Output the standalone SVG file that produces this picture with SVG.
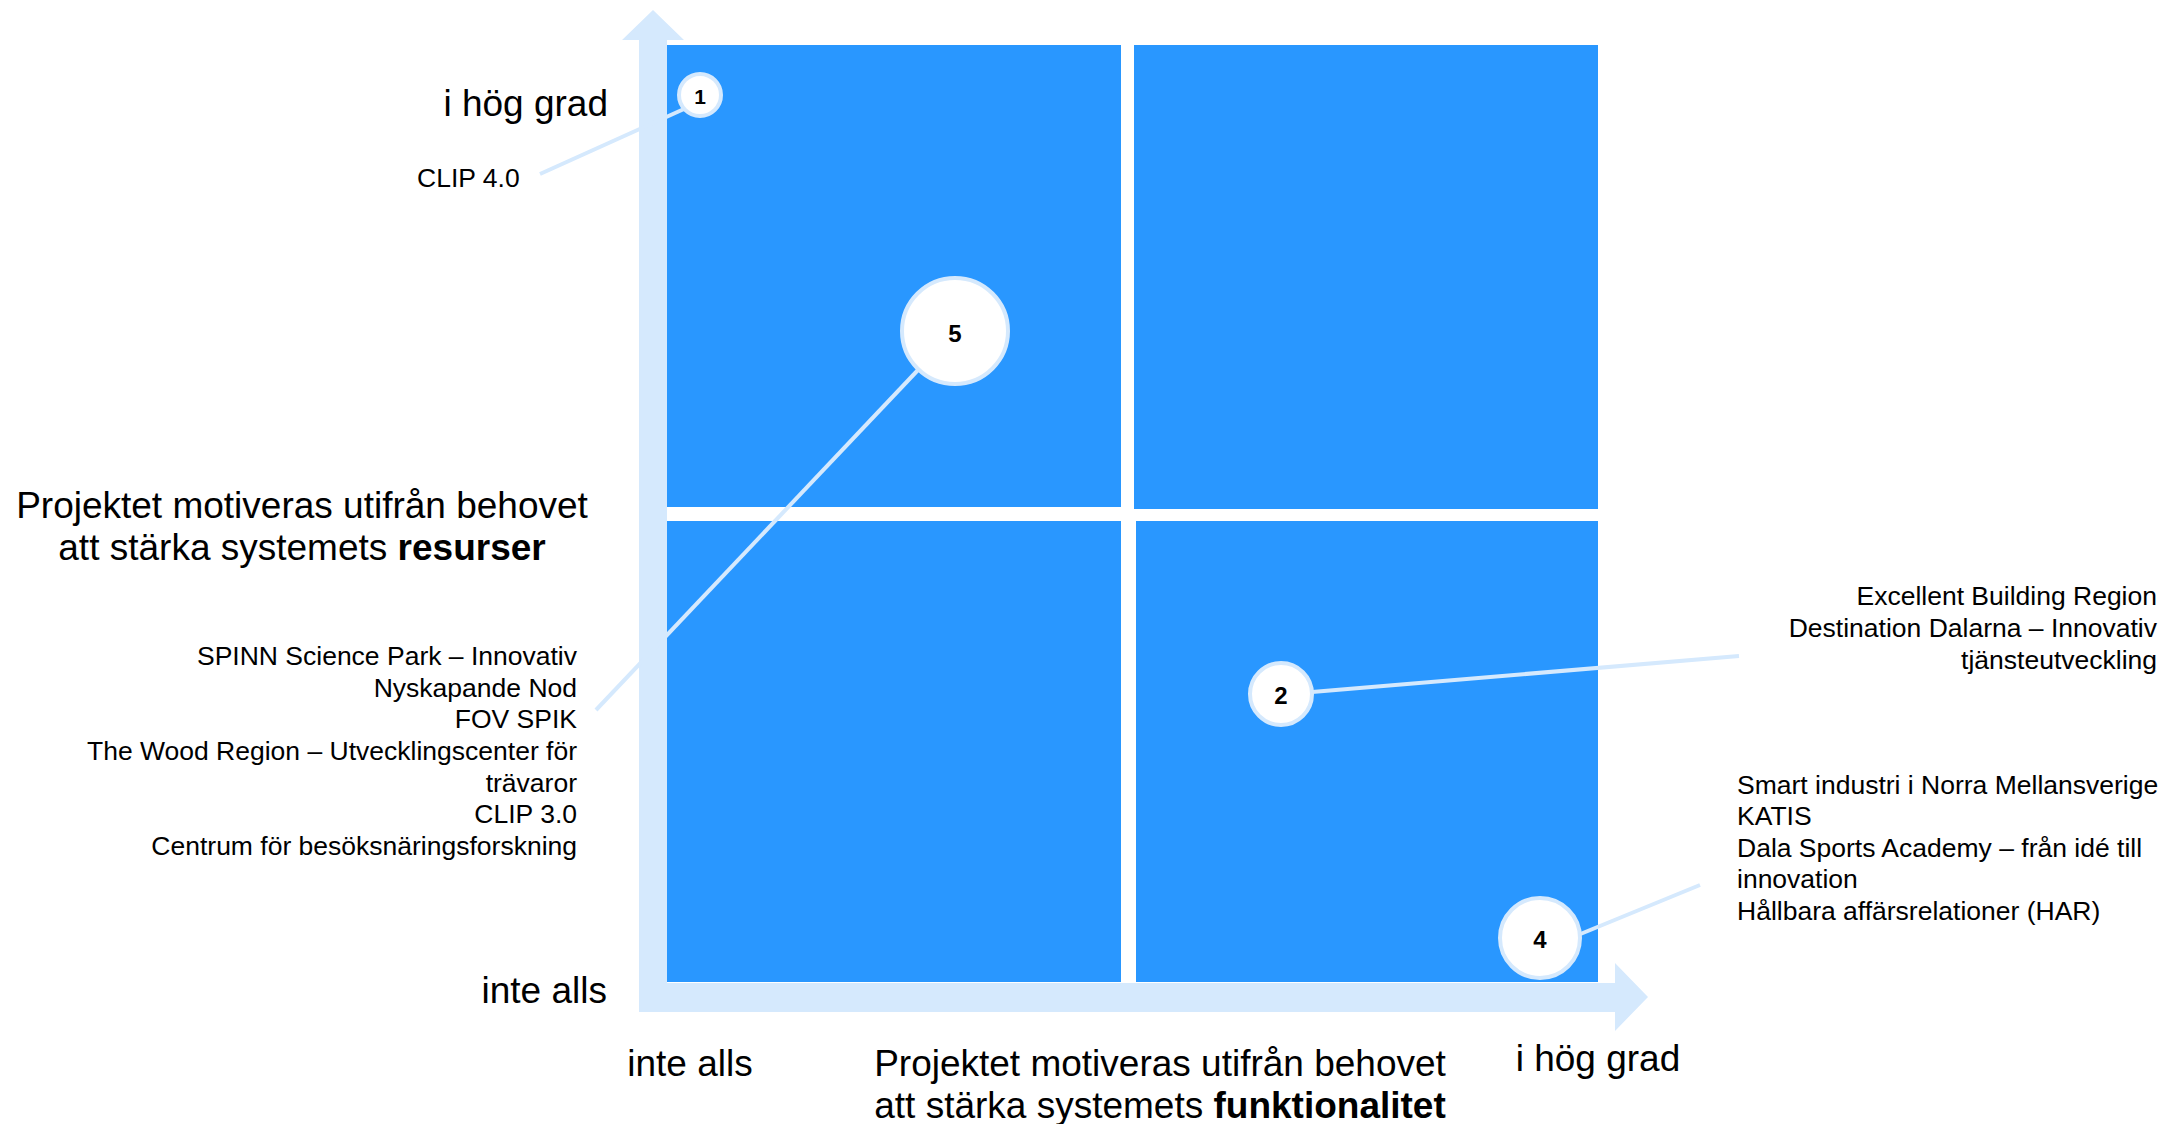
<svg xmlns="http://www.w3.org/2000/svg" width="2164" height="1124" viewBox="0 0 2164 1124">
<style>
  text { font-family: "Liberation Sans", Arial, sans-serif; fill: #000; }
  .quad { fill: #2997FF; }
  .axis { fill: #D5E9FD; }
  .conn { stroke: #D5E9FD; stroke-width: 4; fill: none; }
  .bubble { fill: #FFFFFF; stroke: #D5E9FD; stroke-width: 4; }
  .num { font-weight: bold; text-anchor: middle; }
  .big { font-size: 37px; }
  .list { font-size: 26.5px; }
  .end { text-anchor: end; }
  .mid { text-anchor: middle; }
</style>
<rect width="2164" height="1124" fill="#FFFFFF"/>
<g id="axes">
  <polygon class="axis" points="639,1012 639,40 622,40 653,10 684,40 667,40 667,983 1615,983 1615,963 1648,997 1615,1031 1615,1012"/>
</g>
<g id="quadrants">
  <rect class="quad" x="667" y="45" width="454" height="462"/>
  <rect class="quad" x="1134" y="45" width="464" height="464"/>
  <rect class="quad" x="667" y="521" width="454" height="461"/>
  <rect class="quad" x="1136" y="521" width="462" height="461"/>
</g>
<g id="connectors">
  <line class="conn" x1="540" y1="174" x2="684" y2="109"/>
  <line class="conn" x1="596" y1="710" x2="918" y2="370"/>
  <line class="conn" x1="1312" y1="692" x2="1739" y2="656"/>
  <line class="conn" x1="1578" y1="935" x2="1700" y2="885"/>
</g>
<g id="node1">
  <circle class="bubble" cx="700" cy="95" r="21"/>
  <text class="num" x="700" y="104" font-size="21">1</text>
</g>
<g id="node5">
  <circle class="bubble" cx="955" cy="331" r="53"/>
  <text class="num" x="955" y="342" font-size="24">5</text>
</g>
<g id="node2">
  <circle class="bubble" cx="1281" cy="694" r="31"/>
  <text class="num" x="1281" y="704" font-size="24">2</text>
</g>
<g id="node4">
  <circle class="bubble" cx="1540" cy="938" r="40"/>
  <text class="num" x="1540" y="948" font-size="24">4</text>
</g>
<g id="labels">
  <text class="big end" x="608" y="116">i hög grad</text>
  <text class="big end" x="607" y="1003">inte alls</text>
  <text class="big mid" x="690" y="1076">inte alls</text>
  <text class="big mid" x="1598" y="1071">i hög grad</text>
  <text class="list" x="417" y="187">CLIP 4.0</text>
  <text class="big mid" x="302" y="518">Projektet motiveras utifrån behovet</text>
  <text class="big mid" x="302" y="560">att stärka systemets <tspan font-weight="bold">resurser</tspan></text>
  <text class="big mid" x="1160" y="1076">Projektet motiveras utifrån behovet</text>
  <text class="big mid" x="1160" y="1118">att stärka systemets <tspan font-weight="bold">funktionalitet</tspan></text>
  <text class="list end"><tspan x="577" y="665">SPINN Science Park – Innovativ</tspan><tspan x="577" y="697">Nyskapande Nod</tspan><tspan x="577" y="728">FOV SPIK</tspan><tspan x="577" y="760">The Wood Region – Utvecklingscenter för</tspan><tspan x="577" y="792">trävaror</tspan><tspan x="577" y="823">CLIP 3.0</tspan><tspan x="577" y="855">Centrum för besöksnäringsforskning</tspan></text>
  <text class="list end"><tspan x="2157" y="605">Excellent Building Region</tspan><tspan x="2157" y="637">Destination Dalarna – Innovativ</tspan><tspan x="2157" y="669">tjänsteutveckling</tspan></text>
  <text class="list"><tspan x="1737" y="794">Smart industri i Norra Mellansverige</tspan><tspan x="1737" y="825">KATIS</tspan><tspan x="1737" y="857">Dala Sports Academy – från idé till</tspan><tspan x="1737" y="888">innovation</tspan><tspan x="1737" y="920">Hållbara affärsrelationer (HAR)</tspan></text>
</g>
</svg>
